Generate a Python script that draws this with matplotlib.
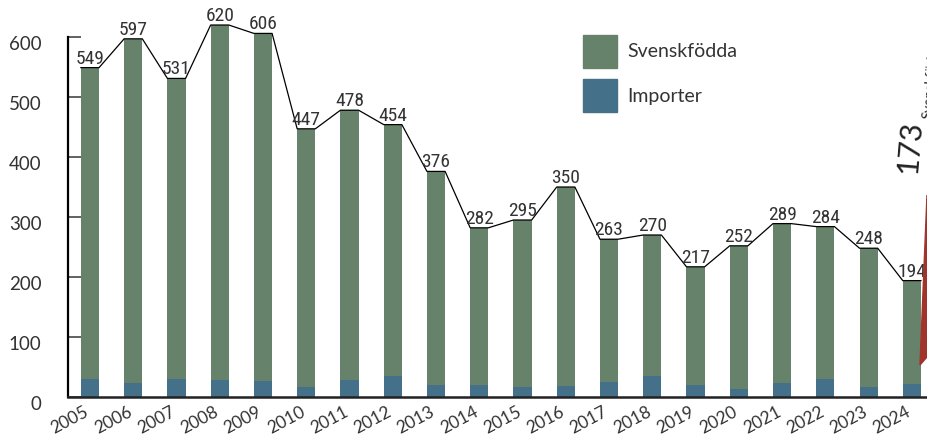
import numpy as np
import matplotlib
matplotlib.use("Agg")
import matplotlib.pyplot as plt
import matplotlib.transforms as mtrans
from matplotlib.patches import Patch, Polygon

# data
years = [str(y) for y in range(2005, 2025)]
totals = [549, 597, 531, 620, 606, 447, 478, 454, 376, 282,
          295, 350, 263, 270, 217, 252, 289, 284, 248, 194]
imports = [30, 23, 30, 28, 27, 17, 28, 35, 20, 20,
           16, 18, 25, 35, 20, 13, 23, 30, 16, 22]
yticks = [0, 100, 200, 300, 400, 500, 600]

green = "#66826a"
blue = "#45708a"
red = "#a0332b"
txt = "#333333"

x = np.arange(len(years))
tot = np.array(totals)
imp = np.array(imports)
sv = tot - imp
w = 0.42

fig = plt.figure(figsize=(9.27, 4.38), dpi=100)
ax = fig.add_axes([68 / 927, 1 - 397 / 438, 1 - 68 / 927, 397 / 438])

ax.bar(x, imp, w, color=blue, zorder=2)
ax.bar(x, sv, w, bottom=imp, color=green, zorder=2)

# line running along the bar tops
lx = np.ravel(np.column_stack([x - w / 2, x + w / 2]))
ly = np.repeat(tot, 2)
ax.plot(lx, ly, color="black", lw=0.9, zorder=3)

for xi, t in zip(x, tot):
    ax.text(xi, t, str(t), ha="center", va="bottom", fontsize=14,
            family=["Roboto Condensed", "Roboto"], color=txt, zorder=4)

ax.set_xlim(-0.508, 19.35)
ax.set_ylim(0, 661.7)

ax.set_yticks(yticks)
ax.set_yticklabels([str(v) for v in yticks], family="Lato", fontsize=13.5, color=txt)
ax.tick_params(axis="y", direction="in", length=9.5, width=1.3, color="#555555", pad=19)
off = mtrans.ScaledTranslation(0, -6 / 100, fig.dpi_scale_trans)
for lab in ax.get_yticklabels():
    lab.set_transform(lab.get_transform() + off)

ax.set_xticks(x)
ax.set_xticklabels(years, family="Lato", fontsize=12.5, color=txt,
                   rotation=28, ha="right", va="baseline", rotation_mode="anchor")
ax.tick_params(axis="x", length=0, pad=13)

for s in ["top", "right"]:
    ax.spines[s].set_visible(False)
ax.spines["left"].set_bounds(0, 600)
ax.spines["left"].set_linewidth(1.6)
ax.spines["bottom"].set_linewidth(1.8)
ax.spines["bottom"].set_color("#222222")

handles = [Patch(color=green, label="Svenskfödda"), Patch(color=blue, label="Importer")]
fig.legend(handles=handles, loc="upper left", bbox_to_anchor=(583 / 927, 1 - 35 / 438),
           frameon=False, borderpad=0, borderaxespad=0,
           handlelength=1.75, handleheight=2.2, handletextpad=0.55, labelspacing=0.6,
           prop={"family": "Lato", "size": 14}, labelcolor=txt)

# cropped 2025 marker at the right edge
fig.patches.append(Polygon([[927 / 927, 1 - 195 / 438], [920 / 927, 1 - 365 / 438],
                            [927 / 927, 1 - 357 / 438]], closed=True,
                           transform=fig.transFigure, color=red, zorder=1))
fig.text(910 / 927, 1 - 147 / 438, "173", rotation=85, ha="center", va="center",
         fontsize=22, family="Lato", color="#222222")
fig.text(922 / 927, 1 - 118 / 438, "Svenskfödda", rotation=85, ha="left", va="top",
         rotation_mode="anchor", fontsize=10, family="Lato", color="#222222")

fig.savefig("out.png", dpi=100)
